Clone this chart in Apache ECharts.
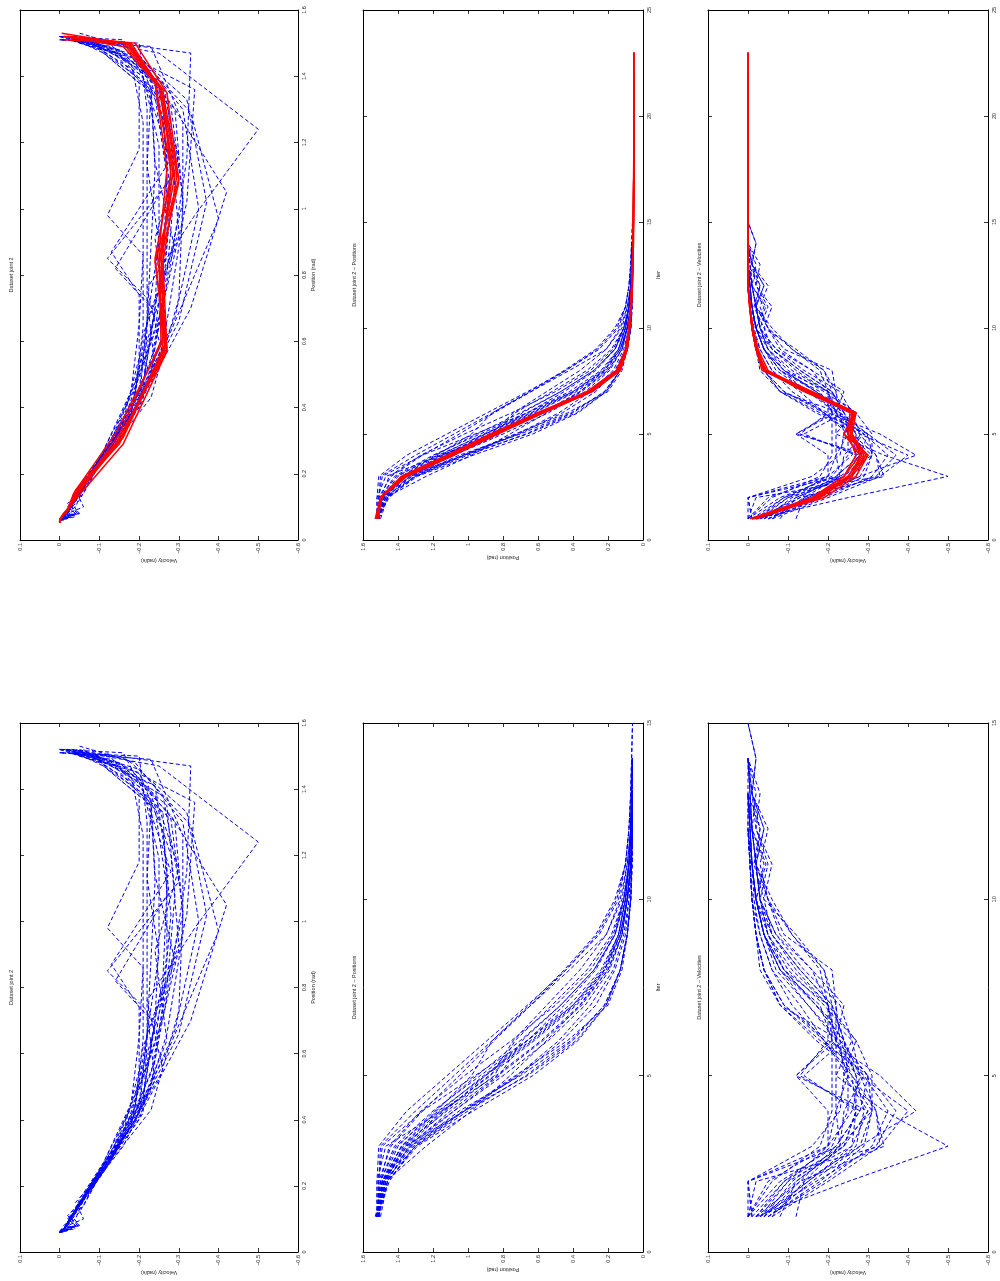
<!DOCTYPE html>
<html>
<head>
<meta charset="utf-8">
<script src="https://cdn.jsdelivr.net/npm/echarts@6/dist/echarts.min.js"></script>
<style>
html,body{margin:0;padding:0;background:#fff}
#chart{width:1000px;height:1281px}
</style>
</head>
<body>
<div id="chart"></div>
<script>
// Joint 2 trajectories: position (rad) and velocity (rad/s) per iteration (iteration = index + 1)

// Demonstration dataset (blue, dashed)
const bluePos = [
  [1.51,1.51,1.50,1.30,1.08,0.86,0.64,0.42,0.21,0.12,0.09,0.07,0.065,0.06],
  [1.52,1.45,1.31,1.03,0.73,0.43,0.20,0.12,0.09,0.07,0.065,0.06,0.06],
  [1.52,1.47,1.24,0.98,0.76,0.55,0.36,0.22,0.14,0.10,0.08,0.07,0.065],
  [1.51,1.49,1.38,1.12,0.85,0.73,0.52,0.32,0.18,0.11,0.08,0.07,0.06,0.06],
  [1.52,1.50,1.42,1.20,0.93,0.66,0.42,0.24,0.14,0.10,0.08,0.07,0.06,0.06],
  [1.51,1.48,1.35,1.08,0.80,0.54,0.33,0.19,0.12,0.09,0.07,0.065,0.06],
  [1.52,1.51,1.44,1.26,1.05,0.85,0.64,0.44,0.26,0.15,0.10,0.08,0.07,0.065],
  [1.50,1.46,1.30,1.02,0.72,0.48,0.30,0.17,0.11,0.08,0.07,0.06],
  [1.51,1.51,1.49,1.26,0.96,0.66,0.40,0.22,0.13,0.09,0.07,0.065,0.06],
  [1.52,1.48,1.36,1.15,0.87,0.74,0.55,0.36,0.21,0.13,0.09,0.07,0.065,0.06],
  [1.52,1.49,1.33,1.02,0.66,0.38,0.21,0.13,0.09,0.07,0.065,0.06],
  [1.51,1.47,1.37,1.14,0.88,0.62,0.38,0.21,0.13,0.09,0.07,0.06,0.06],
  [1.52,1.52,1.51,1.35,1.12,0.89,0.66,0.44,0.25,0.14,0.10,0.08,0.07,0.065,0.06],
  [1.51,1.46,1.29,0.97,0.63,0.37,0.21,0.13,0.09,0.07,0.065,0.06],
  [1.52,1.49,1.40,1.19,0.95,0.70,0.47,0.28,0.16,0.11,0.08,0.07,0.065,0.06],
  [1.51,1.47,1.33,1.08,0.82,0.69,0.47,0.28,0.16,0.10,0.08,0.07,0.06],
  [1.52,1.50,1.45,1.27,1.02,0.75,0.50,0.30,0.17,0.11,0.08,0.07,0.065,0.06],
  [1.53,1.48,1.30,1.00,0.67,0.40,0.22,0.13,0.09,0.07,0.06,0.06],
  [1.52,1.52,1.47,1.15,0.84,0.58,0.36,0.20,0.12,0.09,0.07,0.065,0.06],
  [1.51,1.48,1.35,1.13,0.90,0.66,0.45,0.27,0.16,0.11,0.08,0.07,0.065,0.06],
  [1.52,1.49,1.38,1.16,0.91,0.64,0.40,0.23,0.14,0.10,0.08,0.07,0.06],
  [1.52,1.47,1.32,1.05,0.70,0.41,0.22,0.13,0.09,0.07,0.065,0.06],
  [1.52,1.50,1.41,1.17,0.90,0.63,0.39,0.22,0.13,0.09,0.07,0.065,0.06,0.06],
  [1.51,1.48,1.38,1.18,0.98,0.86,0.65,0.45,0.27,0.16,0.10,0.08,0.07,0.065,0.06],
  [1.52,1.46,1.34,1.10,0.83,0.57,0.35,0.20,0.12,0.09,0.07,0.06,0.06],
  [1.51,1.49,1.36,1.02,0.71,0.46,0.27,0.16,0.10,0.08,0.07,0.06]
];
const blueVel = [
  [-0.01,0,-0.20,-0.22,-0.22,-0.22,-0.22,-0.21,-0.09,-0.05,-0.02,-0.03,-0.01,0],
  [-0.06,-0.14,-0.28,-0.31,-0.30,-0.23,-0.08,-0.03,-0.02,-0.01,-0.005,0,0],
  [-0.02,-0.25,-0.50,-0.34,-0.22,-0.26,-0.17,-0.09,-0.05,-0.02,-0.04,-0.01,0],
  [-0.02,-0.10,-0.26,-0.30,-0.12,-0.22,-0.24,-0.16,-0.07,-0.03,-0.05,-0.02,-0.01,0],
  [0,-0.08,-0.22,-0.28,-0.30,-0.22,-0.20,-0.11,-0.05,-0.03,-0.02,-0.01,-0.005,0],
  [-0.03,-0.15,-0.27,-0.29,-0.27,-0.23,-0.15,-0.07,-0.04,-0.02,-0.01,-0.005,0],
  [0,-0.06,-0.18,-0.21,-0.21,-0.21,-0.21,-0.19,-0.12,-0.04,-0.06,-0.02,-0.03,0],
  [-0.05,-0.18,-0.29,-0.31,-0.25,-0.19,-0.13,-0.06,-0.03,-0.015,-0.01,0],
  [-0.01,0,-0.23,-0.31,-0.31,-0.27,-0.20,-0.09,-0.04,-0.02,-0.01,-0.005,0],
  [-0.04,-0.13,-0.22,-0.28,-0.13,-0.20,-0.20,-0.16,-0.08,-0.05,-0.02,-0.04,-0.01,0],
  [-0.03,-0.17,-0.32,-0.37,-0.30,-0.18,-0.08,-0.04,-0.02,-0.01,-0.005,0],
  [-0.04,-0.11,-0.23,-0.24,-0.29,-0.21,-0.18,-0.08,-0.04,-0.02,-0.01,-0.005,0],
  [0,0,-0.16,-0.23,-0.24,-0.23,-0.22,-0.19,-0.11,-0.06,-0.02,-0.04,-0.01,-0.02,0],
  [-0.06,-0.20,-0.33,-0.40,-0.28,-0.17,-0.08,-0.04,-0.02,-0.01,-0.005,0],
  [-0.02,-0.09,-0.21,-0.25,-0.25,-0.24,-0.21,-0.13,-0.06,-0.03,-0.02,-0.01,-0.005,0],
  [-0.04,-0.15,-0.26,-0.27,-0.14,-0.24,-0.21,-0.13,-0.06,-0.04,-0.015,-0.03,0],
  [0,-0.05,-0.20,-0.26,-0.28,-0.26,-0.23,-0.14,-0.07,-0.03,-0.02,-0.01,-0.005,0],
  [-0.05,-0.19,-0.31,-0.35,-0.29,-0.19,-0.09,-0.04,-0.02,-0.01,-0.005,0],
  [0,-0.02,-0.33,-0.32,-0.28,-0.24,-0.17,-0.08,-0.04,-0.02,-0.01,-0.005,0],
  [-0.12,-0.14,-0.23,-0.22,-0.25,-0.22,-0.20,-0.12,-0.06,-0.02,-0.045,-0.01,-0.02,0],
  [-0.03,-0.12,-0.24,-0.30,-0.24,-0.27,-0.19,-0.10,-0.05,-0.03,-0.02,-0.01,0],
  [-0.05,-0.16,-0.28,-0.42,-0.33,-0.20,-0.09,-0.04,-0.02,-0.01,-0.005,0],
  [-0.01,-0.09,-0.24,-0.27,-0.27,-0.24,-0.17,-0.09,-0.04,-0.02,-0.01,-0.005,0,0],
  [-0.03,-0.10,-0.20,-0.20,-0.12,-0.21,-0.20,-0.18,-0.11,-0.05,-0.03,-0.05,-0.01,-0.02,0],
  [-0.08,-0.12,-0.24,-0.27,-0.26,-0.22,-0.15,-0.08,-0.04,-0.02,-0.01,0,0],
  [-0.02,-0.13,-0.34,-0.32,-0.26,-0.19,-0.11,-0.06,-0.03,-0.01,-0.005,0]
];

// Reproduced runs (red, solid)
const redPos = [
  [1.52,1.50,1.37,1.10,0.85,0.58,0.30,0.14,0.09,0.08,0.07,0.065,0.06,0.058,0.056,0.055,0.054,0.053,0.053,0.052,0.052,0.052,0.052],
  [1.52,1.50,1.35,1.09,0.84,0.57,0.29,0.13,0.09,0.075,0.066,0.06,0.057,0.055,0.054,0.053,0.052,0.052,0.052,0.051,0.051],
  [1.52,1.49,1.38,1.12,0.87,0.60,0.32,0.15,0.10,0.08,0.07,0.064,0.06,0.057,0.055,0.054,0.053,0.052,0.052,0.052,0.052,0.051],
  [1.52,1.50,1.35,1.08,0.83,0.57,0.29,0.14,0.09,0.077,0.068,0.062,0.058,0.056,0.055,0.054,0.053,0.053,0.052,0.052,0.052,0.052,0.052],
  [1.51,1.50,1.37,1.11,0.86,0.59,0.31,0.15,0.095,0.08,0.07,0.063,0.059,0.057,0.055,0.054,0.053,0.052,0.052,0.052,0.052],
  [1.52,1.50,1.36,1.10,0.85,0.58,0.31,0.14,0.09,0.08,0.07,0.064,0.06,0.057,0.055,0.054,0.053,0.053,0.052,0.052,0.052,0.052],
  [1.52,1.50,1.36,1.10,0.84,0.57,0.30,0.13,0.09,0.076,0.067,0.061,0.057,0.055,0.054,0.053,0.052,0.052,0.052,0.052,0.052,0.052,0.052],
  [1.53,1.50,1.38,1.12,0.87,0.60,0.32,0.15,0.10,0.08,0.07,0.064,0.06,0.057,0.055,0.054,0.053,0.052,0.052,0.052,0.052]
];
const redVel = [
  [-0.01,-0.17,-0.25,-0.29,-0.25,-0.27,-0.15,-0.04,-0.02,-0.01,-0.005,0,0,0,0,0,0,0,0,0,0,0,0],
  [-0.02,-0.18,-0.26,-0.30,-0.24,-0.27,-0.16,-0.045,-0.02,-0.01,-0.004,0,0,0,0,0,0,0,0,0,0],
  [-0.01,-0.16,-0.24,-0.28,-0.26,-0.26,-0.14,-0.04,-0.025,-0.012,-0.005,0,0,0,0,0,0,0,0,0,0,0],
  [-0.015,-0.19,-0.27,-0.30,-0.25,-0.26,-0.15,-0.035,-0.02,-0.01,-0.005,0,0,0,0,0,0,0,0,0,0,0,0],
  [-0.01,-0.165,-0.25,-0.285,-0.255,-0.265,-0.155,-0.04,-0.02,-0.01,-0.004,0,0,0,0,0,0,0,0,0,0],
  [-0.02,-0.17,-0.26,-0.28,-0.24,-0.265,-0.16,-0.045,-0.02,-0.01,-0.005,0,0,0,0,0,0,0,0,0,0,0],
  [-0.01,-0.175,-0.255,-0.295,-0.26,-0.27,-0.145,-0.04,-0.02,-0.01,-0.005,0,0,0,0,0,0,0,0,0,0,0,0],
  [-0.005,-0.16,-0.24,-0.27,-0.25,-0.255,-0.15,-0.05,-0.025,-0.012,-0.005,0,0,0,0,0,0,0,0,0,0]
];

// Tick labels
const velTickLabels = ['\u22120.6','\u22120.5','\u22120.4','\u22120.3','\u22120.2','\u22120.1','0','0.1'];
const posTickLabels = ['0','0.2','0.4','0.6','0.8','1','1.2','1.4','1.6'];
const iterTickLabels = ['0','5','10','15','20','25'];

const FONT = '"Liberation Sans", Arial, Helvetica, sans-serif';
const TXT = '#222';
const FS = 5.5;

const velFmt = v => velTickLabels[Math.round((v + 0.6) / 0.1)];
const posFmt = v => posTickLabels[Math.round(v / 0.2)];
const iterFmt = v => iterTickLabels[Math.round(v / 5)];

const AX = {
  vel:  {min: -0.6, max: 0.1, interval: 0.1, fmt: velFmt, name: 'Velocity (rad/s)'},
  pos:  {min: 0, max: 1.6, interval: 0.2, fmt: posFmt, name: 'Position (rad)'},
  it25: {min: 0, max: 25, interval: 5, fmt: iterFmt, name: 'Iter'},
  it15: {min: 0, max: 15, interval: 5, fmt: iterFmt, name: 'Iter'}
};

// Panel layout: horizontal quantity (bottom, reversed), vertical quantity (right)
const panels = [
  {rect: [20, 10, 278, 530],  h: 'vel', v: 'pos',  kind: 'phase', red: true,  title: 'Dataset joint 2'},
  {rect: [363, 10, 280, 530], h: 'pos', v: 'it25', kind: 'pos',   red: true,  title: 'Dataset joint 2 \u2013 Positions'},
  {rect: [708, 10, 280, 530], h: 'vel', v: 'it25', kind: 'vel',   red: true,  title: 'Dataset joint 2 \u2013 Velocities'},
  {rect: [20, 723, 278, 529], h: 'vel', v: 'pos',  kind: 'phase', red: false, title: 'Dataset joint 2'},
  {rect: [363, 723, 280, 529],h: 'pos', v: 'it15', kind: 'pos',   red: false, title: 'Dataset joint 2 \u2013 Positions'},
  {rect: [708, 723, 280, 529],h: 'vel', v: 'it15', kind: 'vel',   red: false, title: 'Dataset joint 2 \u2013 Velocities'}
];

function makeAxis(gi, side, spec, main) {
  const horiz = (side === 'bottom' || side === 'top');
  const a = {
    gridIndex: gi, type: 'value', position: side,
    min: spec.min, max: spec.max, interval: spec.interval,
    inverse: horiz,
    axisLine: {show: true, onZero: false, lineStyle: {color: '#000', width: 1}},
    axisTick: {show: true, inside: true, length: 4, lineStyle: {color: '#000', width: 0.8}},
    splitLine: {show: false},
    axisLabel: {show: false}
  };
  if (main) {
    a.axisLabel = {
      show: true, rotate: 90, fontSize: FS, fontFamily: FONT, color: TXT, margin: 3,
      formatter: spec.fmt, showMinLabel: true, showMaxLabel: true, hideOverlap: false
    };
    if (!horiz) { a.axisLabel.align = 'center'; a.axisLabel.verticalAlign = 'top'; }
    a.name = spec.name;
    a.nameLocation = 'middle';
    a.nameGap = horiz ? 15 : 12;
    a.nameRotate = horiz ? 180 : 90;
    a.nameTextStyle = {fontSize: FS, fontFamily: FONT, color: TXT};
  }
  return a;
}

function pointsFor(kind, pos, vel) {
  const n = Math.min(pos.length, vel.length);
  const out = [];
  for (let k = 0; k < n; k++) {
    if (kind === 'phase') out.push([vel[k], pos[k]]);
    else if (kind === 'pos') out.push([pos[k], k + 1]);
    else out.push([vel[k], k + 1]);
  }
  return out;
}

const grids = [], xAxes = [], yAxes = [], series = [], graphics = [];

panels.forEach((p, i) => {
  const [l, t, w, h] = p.rect;
  grids.push({left: l, top: t, width: w, height: h, show: false, containLabel: false, outerBoundsMode: 'none'});
  xAxes.push(makeAxis(i, 'bottom', AX[p.h], true));
  xAxes.push(makeAxis(i, 'top', AX[p.h], false));
  yAxes.push(makeAxis(i, 'right', AX[p.v], true));
  yAxes.push(makeAxis(i, 'left', AX[p.v], false));

  const xi = 2 * i, yi = 2 * i;
  for (let r = 0; r < bluePos.length; r++) {
    series.push({
      type: 'line', xAxisIndex: xi, yAxisIndex: yi,
      data: pointsFor(p.kind, bluePos[r], blueVel[r]),
      symbol: 'none', showSymbol: false, silent: true, animation: false, z: 2,
      lineStyle: {color: '#0000ff', width: 1, type: [4, 2.5]}
    });
  }
  if (p.red) {
    for (let r = 0; r < redPos.length; r++) {
      series.push({
        type: 'line', xAxisIndex: xi, yAxisIndex: yi,
        data: pointsFor(p.kind, redPos[r], redVel[r]),
        symbol: 'none', showSymbol: false, silent: true, animation: false, z: 3,
        lineStyle: {color: '#ff0000', width: 1.5, type: 'solid'}
      });
    }
  }

  graphics.push({
    type: 'text', x: l - 9, y: t + h / 2, rotation: Math.PI / 2, silent: true,
    style: {text: p.title, fontSize: FS, fontFamily: FONT, fill: TXT, align: 'center', verticalAlign: 'middle'}
  });
});

const chart = echarts.init(document.getElementById('chart'), null, {renderer: 'canvas'});
chart.setOption({
  backgroundColor: '#ffffff',
  animation: false,
  grid: grids,
  xAxis: xAxes,
  yAxis: yAxes,
  series: series,
  graphic: graphics
});
</script>
</body>
</html>
